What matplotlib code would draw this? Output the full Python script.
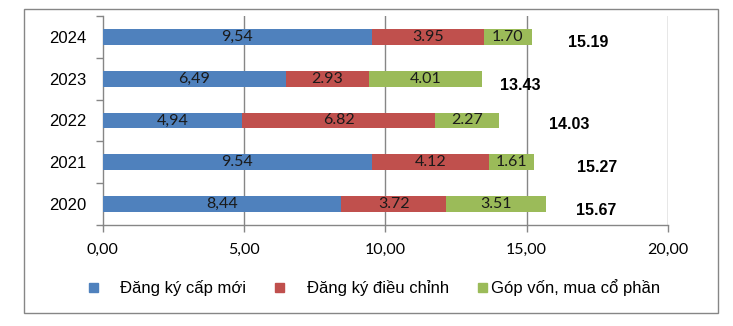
import matplotlib.pyplot as plt
from matplotlib.patches import Rectangle

# FDI registered capital by year (billion USD)
years = ['2020', '2021', '2022', '2023', '2024']
cap_moi = [8.44, 9.54, 4.94, 6.49, 9.54]
dieu_chinh = [3.72, 4.12, 6.82, 2.93, 3.95]
gop_von = [3.51, 1.61, 2.27, 4.01, 1.70]
totals = [15.67, 15.27, 14.03, 13.43, 15.19]
# labels for the first series use a decimal comma, except 2021
cap_moi_labels = ['8,44', '9.54', '4,94', '6,49', '9,54']
series_names = ['Đăng ký cấp mới', 'Đăng ký điều chỉnh', 'Góp vốn, mua cổ phần']
xticks = [0, 5, 10, 15, 20]
xtick_labels = ['0,00', '5,00', '10,00', '15,00', '20,00']

# where the bold totals sit (x in data units, y offset from bar centre)
total_x = [17.45, 17.49, 16.49, 14.78, 17.17]
total_dy = [-0.165, -0.12, -0.093, -0.155, -0.13]

colors = ['#4F81BD', '#C0504D', '#9BBB59']
grid_col = '#868686'
num_font = 'Lato'
txt_font = 'Liberation Sans'
num_size = 11.5

fig = plt.figure(figsize=(7.33, 3.26), dpi=100)
ax = fig.add_axes([102.5 / 733, 1 - 225 / 326, (668 - 102.5) / 733, (225 - 16) / 326])

ypos = list(range(len(years)))
h = 0.38
left = [0] * len(years)
for vals, c in zip([cap_moi, dieu_chinh, gop_von], colors):
    ax.barh(ypos, vals, left=left, height=h, color=c, zorder=3)
    left = [a + b for a, b in zip(left, vals)]

# segment labels
for i in ypos:
    ax.text(cap_moi[i] / 2, i, cap_moi_labels[i], ha='center', va='center',
            fontsize=num_size, family=num_font, color='#1a1a1a', zorder=4)
    ax.text(cap_moi[i] + dieu_chinh[i] / 2, i, '%.2f' % dieu_chinh[i], ha='center',
            va='center', fontsize=num_size, family=num_font, color='#1a1a1a', zorder=4)
    ax.text(cap_moi[i] + dieu_chinh[i] + gop_von[i] / 2, i, '%.2f' % gop_von[i],
            ha='center', va='center', fontsize=num_size, family=num_font,
            color='#1a1a1a', zorder=4)
    ax.text(total_x[i], i + total_dy[i], '%.2f' % totals[i], ha='center', va='center',
            fontsize=11.5, fontweight='bold', family=txt_font, color='black')

ax.set_xlim(0, 20)
ax.set_ylim(-0.5, 4.5)
ax.set_xticks(xticks)
ax.set_xticklabels(xtick_labels, family=num_font, fontsize=num_size)
ax.set_yticks([y - 0.5 for y in range(len(years) + 1)])
ax.set_yticklabels([])
ax.set_yticks(ypos, minor=True)
ax.set_yticklabels(years, minor=True, family=txt_font, fontsize=12)
ax.tick_params(axis='y', which='minor', length=0, pad=11.5)
ax.tick_params(axis='y', which='major', length=5, color=grid_col, width=1)
ax.tick_params(axis='x', length=5, color=grid_col, width=1, pad=8)

for x in xticks[1:]:
    ax.axvline(x, color=grid_col, lw=1, zorder=1)
for s in ['top', 'right']:
    ax.spines[s].set_visible(False)
for s in ['left', 'bottom']:
    ax.spines[s].set_color(grid_col)
    ax.spines[s].set_linewidth(1)

# legend drawn by hand to keep Excel's spacing
W, H = 733.0, 326.0
sq_x = [89, 275, 478]
txt_x = [120, 307, 491]
for sx, tx, c, name in zip(sq_x, txt_x, colors, series_names):
    fig.patches.append(Rectangle((sx / W, 1 - 292 / H), 9 / W, 9 / H, color=c,
                                 transform=fig.transFigure))
    fig.text(tx / W, 1 - 287.5 / H, name, ha='left', va='center', fontsize=12,
             family=txt_font, color='black')

# chart border
fig.patches.append(Rectangle((24 / W, 1 - 313 / H), (718 - 24) / W, (313 - 9) / H,
                             fill=False, edgecolor=grid_col, lw=1,
                             transform=fig.transFigure))

fig.savefig('out.png', dpi=100)
